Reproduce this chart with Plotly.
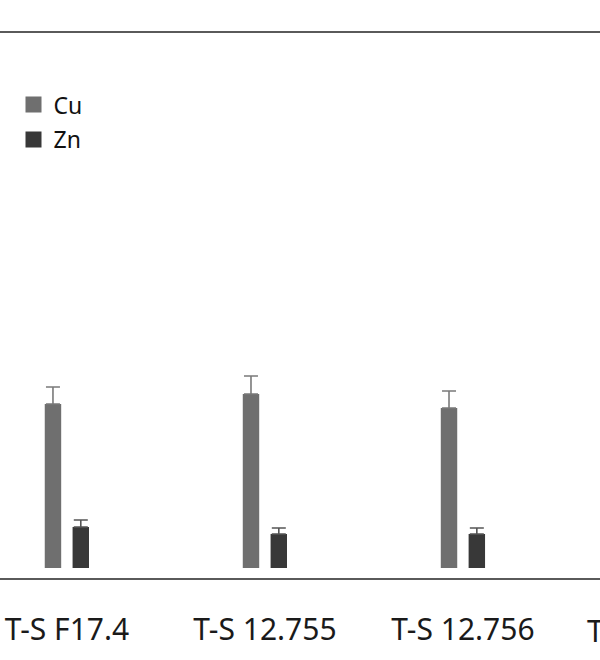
import plotly.graph_objects as go

categories = ["T-S F17.4", "T-S 12.755", "T-S 12.756"]
cu_values = [16.4, 17.4, 16.0]
cu_errors = [1.7, 1.8, 1.7]
zn_values = [4.1, 3.4, 3.4]
zn_errors = [0.7, 0.6, 0.6]
next_label = "T-S"

CU_COLOR = "#6f6f6f"
ZN_COLOR = "#383838"
FONT = "Noto Sans"

fig = go.Figure()
fig.add_trace(go.Bar(
    x=categories, y=cu_values, name="Cu", showlegend=False,
    marker=dict(color=CU_COLOR, line=dict(width=0)),
    width=0.083, offset=-0.112,
    error_y=dict(type="data", array=cu_errors, symmetric=False, arrayminus=[0]*3,
                 color="#7a7a7a", thickness=1.6, width=7),
))
fig.add_trace(go.Bar(
    x=categories, y=zn_values, name="Zn", showlegend=False,
    marker=dict(color=ZN_COLOR, line=dict(width=0)),
    width=0.083, offset=0.0285,
    error_y=dict(type="data", array=zn_errors, symmetric=False, arrayminus=[0]*3,
                 color="#555555", thickness=1.6, width=7),
))
# legend entries
fig.add_trace(go.Scatter(x=[None], y=[None], mode="markers", name="Cu", legendgroup="cu",
                         marker=dict(symbol="square", size=16, color=CU_COLOR)))
fig.add_trace(go.Scatter(x=[None], y=[None], mode="markers", name="Zn", legendgroup="zn",
                         marker=dict(symbol="square", size=16, color=ZN_COLOR)))

fig.add_annotation(x=2.616, y=0, xref="x", yref="paper", yshift=-30,
                   xanchor="left", yanchor="top", text=next_label, showarrow=False,
                   font=dict(family=FONT, size=30, color="#1a1a1a"))

fig.update_layout(
    width=600, height=660,
    margin=dict(l=0, r=0, t=33, b=82),
    paper_bgcolor="white", plot_bgcolor="white",
    barmode="group",
    showlegend=True,
    legend=dict(x=0.0225, y=0.908, xanchor="left", yanchor="top",
                font=dict(family=FONT, size=23, color="#111111"),
                tracegroupgap=2, bgcolor="rgba(0,0,0,0)"),
    font=dict(family=FONT, color="#1a1a1a"),
)
fig.update_xaxes(type="category", range=[-0.338, 2.692],
                 showline=True, mirror=True, linecolor="#5a5a5a", linewidth=2,
                 showgrid=False, zeroline=False, ticks="",
                 tickfont=dict(family=FONT, size=30, color="#1a1a1a"),
                 ticklabelstandoff=24)
fig.update_yaxes(range=[-1.0, 53.5], showline=False, showgrid=False, zeroline=False,
                 showticklabels=False, ticks="")

fig.write_html("out.html", config={"displayModeBar": False},
               post_script="document.body.style.margin='0';")
